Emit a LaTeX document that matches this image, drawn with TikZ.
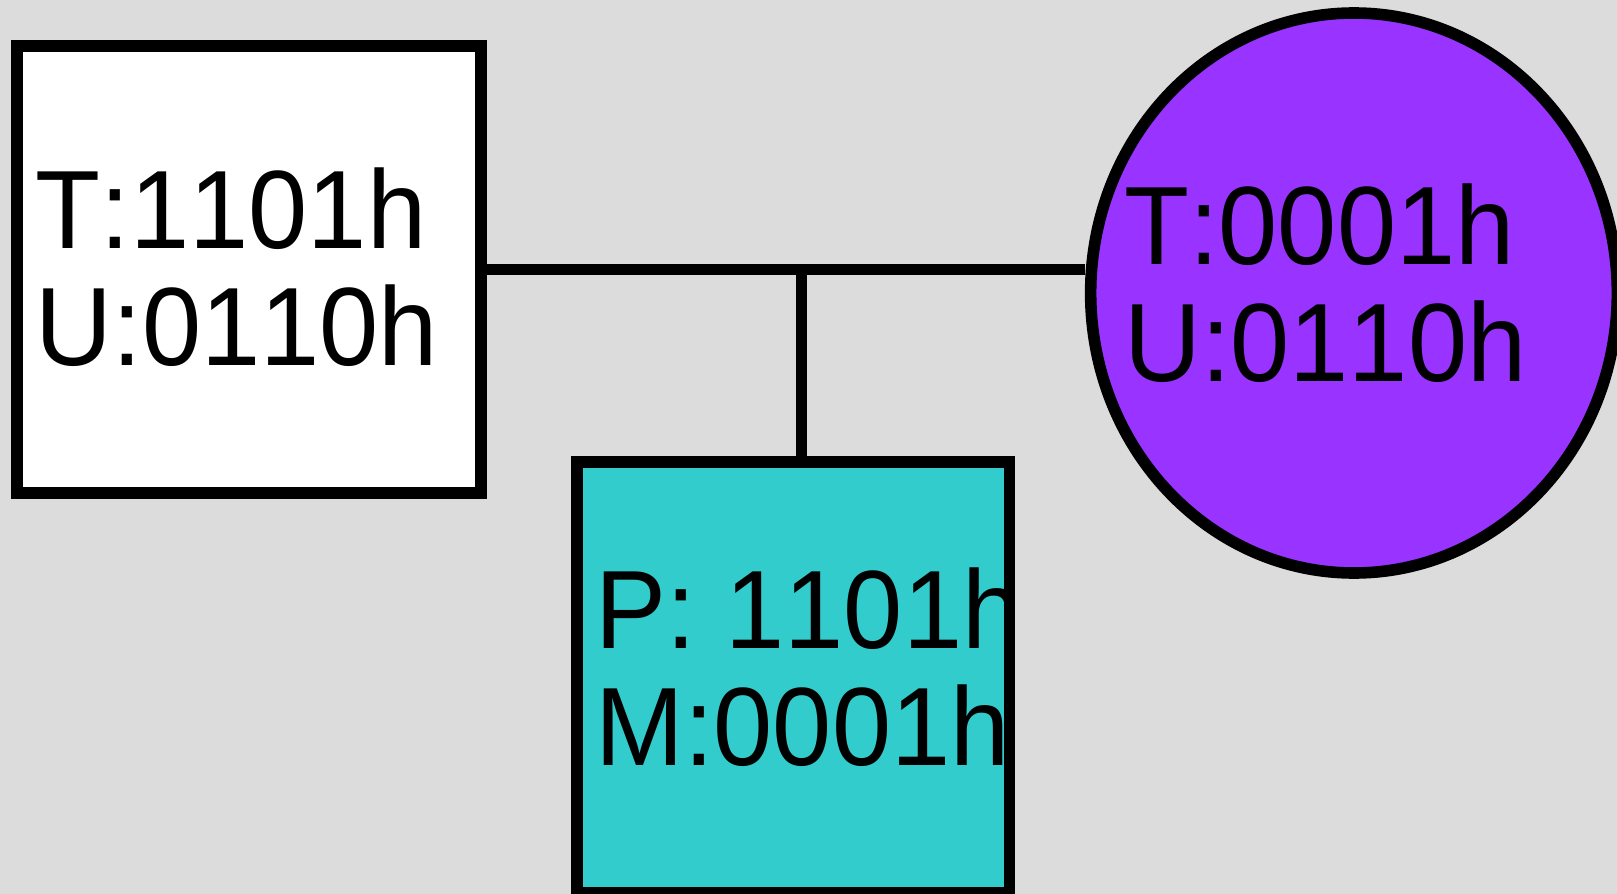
\documentclass[tikz,border=0pt]{standalone}
\usepackage{fontspec}
\setmainfont{Liberation Sans}[FakeStretch=0.955,Kerning=Off]
\usetikzlibrary{shapes.geometric}
\definecolor{pedbg}{RGB}{220,220,220}
\definecolor{pedcyan}{RGB}{51,204,204}
\definecolor{pedpurple}{RGB}{153,51,255}

\begin{document}
\begin{tikzpicture}[x=0.5pt,y=-0.5pt,
    ind/.style={draw=black,line width=5.8pt,inner sep=0pt},
    male/.style={ind,rectangle},
    female/.style={ind,ellipse},
    lbl/.style={font=\fontsize{55.7}{58.7}\selectfont,align=left,inner sep=0pt,anchor=west},
    link/.style={draw=black,line width=5.8pt}]
  \fill[pedbg] (0,0) rectangle (1617,894);
  \useasboundingbox (0,0) rectangle (1617,894);
  % parents and child
  \node[male,fill=white,minimum width=232.2pt,minimum height=223.7pt] (father) at (249,269.5) {};
  \node[female,fill=pedpurple,minimum width=263.35pt,minimum height=280pt] (mother) at (1354,293) {};
  \node[male,fill=pedcyan,minimum width=216.25pt,minimum height=215.4pt] (child) at (793.25,677.1) {};
  % mating line and descent line
  \coordinate (mid) at (801.5,269.5);
  \draw[link] (father.east) -- (father.east -| mother.west);
  \draw[link] (mid) -- (mid |- child.north);
  % labels
  \node[lbl] (fathertxt) at (35.5,267) {T:1101h\\U:0110h};
  \node[lbl] (mothertxt) at (1123.8,283.3) {T:0001h\\U:0110h};
  \node[lbl] (childtxt) at (595.2,667) {P: 1101h\\M:0001h};
\end{tikzpicture}
\end{document}
